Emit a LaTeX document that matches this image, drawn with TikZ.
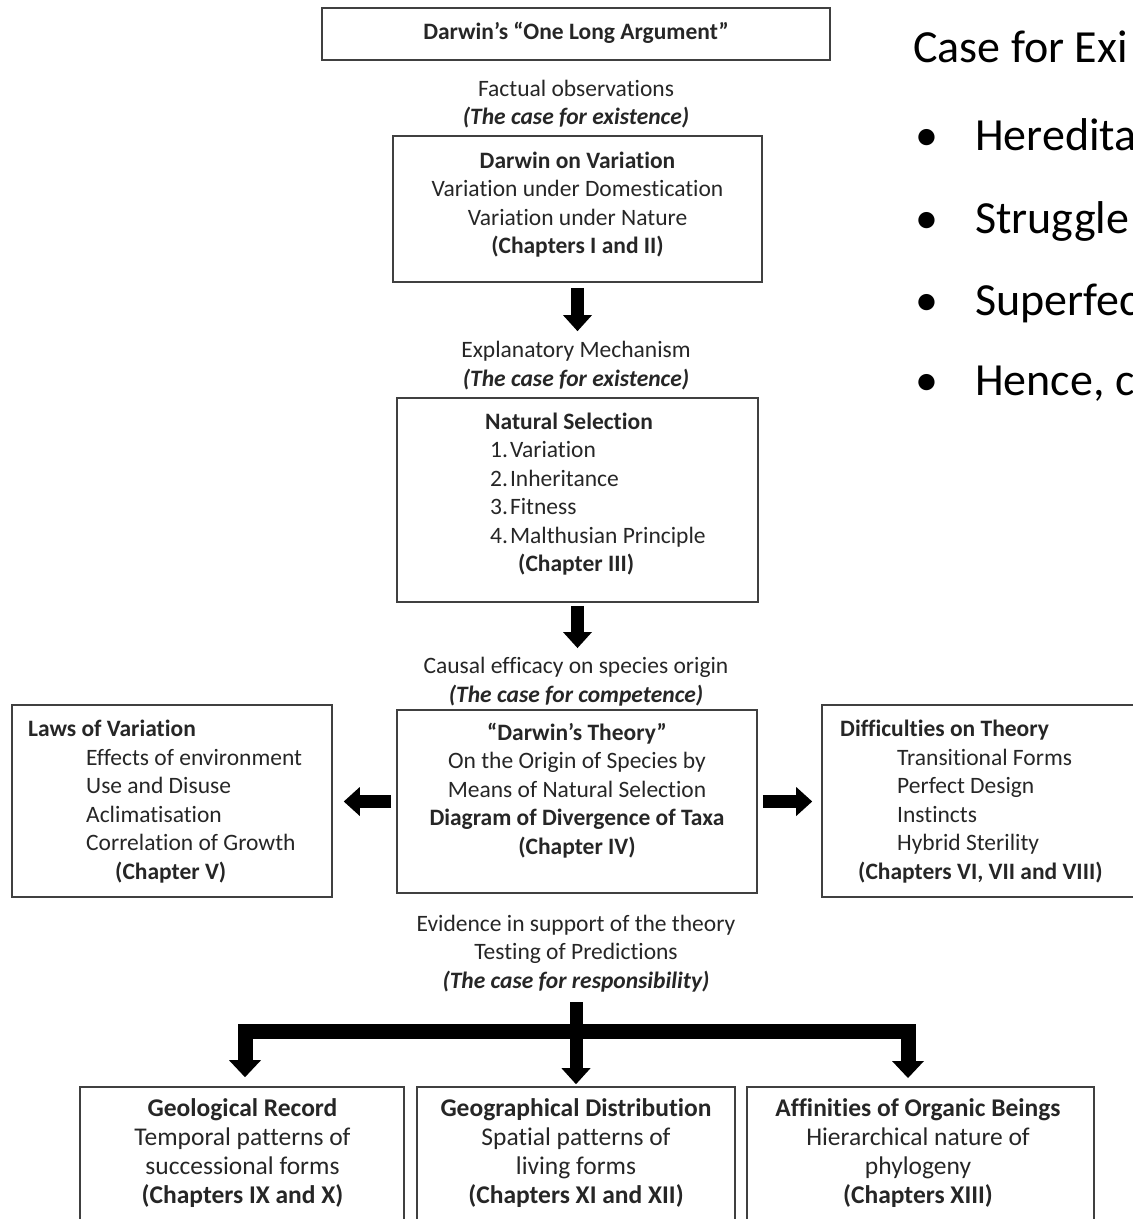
\documentclass[tikz,border=0pt]{standalone}
\usepackage{fontspec}
\setmainfont{Carlito}[Ligatures=NoCommon]
\usetikzlibrary{arrows.meta}
\tikzset{
  box/.style={draw=black!75, line width=1.6pt, inner sep=0pt},
  txt/.style={align=center, inner sep=0pt, text=black!85, font=\fontsize{23.5}{28.5}\selectfont},
  lefttxt/.style={txt, align=left, anchor=west},
  bottomtxt/.style={txt, font=\fontsize{25.5}{29}\selectfont},
  big/.style={inner sep=0pt, anchor=base west, text=black, font=\fontsize{46}{55}\selectfont},
  fat/.style={line width=13pt, -{Triangle[width=29pt, length=16pt, line width=0pt]}},
  bracket/.style={line width=15pt, line join=miter,
    {Triangle[width=32pt, length=17pt, line width=0pt]}-{Triangle[width=32pt, length=17pt, line width=0pt]}},
}

\begin{document}
\begin{tikzpicture}[x=1pt, y=-1pt]
  \useasboundingbox (0,0) rectangle (1133,1219);
  \clip (0,0) rectangle (1133,1219);

  % Boxes
  \node[box, minimum width=508pt, minimum height=52pt] (argbox) at (576,34) {};
  \node[box, minimum width=369pt, minimum height=146pt] (varbox) at (577.5,209) {};
  \node[box, minimum width=361pt, minimum height=204pt] (selbox) at (577.5,500) {};
  \node[box, minimum width=360pt, minimum height=183pt] (theorybox) at (577,801.5) {};
  \node[box, minimum width=320pt, minimum height=192pt] (lawsbox) at (172,801) {};
  \node[box, minimum width=323pt, minimum height=192pt] (diffbox) at (983.5,801) {};
  \node[box, minimum width=324pt, minimum height=153pt] (geobox) at (242,1163.5) {};
  \node[box, minimum width=318pt, minimum height=153pt] (geogbox) at (576,1163.5) {};
  \node[box, minimum width=347pt, minimum height=153pt] (affbox) at (920.5,1163.5) {};

  % Texts
  \node[txt] (argT) at (576,33) {\textbf{Darwin’s “One Long Argument”}};
  \node[txt] (obsT) at (576,104) {Factual observations\\\textbf{\textit{(The case for existence)}}};
  \node[txt] (varT) at (577.5,204.5) {\textbf{Darwin on Variation}\\Variation under Domestication\\Variation under Nature\\\textbf{(Chapters I and II)}};
  \node[txt] (mechT) at (576,365.5) {Explanatory Mechanism\\\textbf{\textit{(The case for existence)}}};
  \node[lefttxt] (selT) at (485,494) {\textbf{Natural Selection}\\\hspace*{5pt}1.\hspace{2pt}Variation\\\hspace*{5pt}2.\hspace{2pt}Inheritance\\\hspace*{5pt}3.\hspace{2pt}Fitness\\\hspace*{5pt}4.\hspace{2pt}Malthusian Principle\\\hspace*{33pt}\textbf{(Chapter III)}};
  \node[txt] (compT) at (576,681.5) {Causal efficacy on species origin\\\textbf{\textit{(The case for competence)}}};
  \node[txt] (theoryT) at (577,790.5) {\textbf{“Darwin’s Theory”}\\On the Origin of Species by\\Means of Natural Selection\\\textbf{Diagram of Divergence of Taxa}\\\textbf{(Chapter IV)}};
  \node[lefttxt] (lawsT) at (28,801.5) {\textbf{Laws of Variation}\\\hspace*{58pt}Effects of environment\\\hspace*{58pt}Use and Disuse\\\hspace*{58pt}Aclimatisation\\\hspace*{58pt}Correlation of Growth\\\hspace*{87pt}\textbf{(Chapter V)}};
  \node[lefttxt] (diffT) at (840,801.5) {\textbf{Difficulties on Theory}\\\hspace*{57pt}Transitional Forms\\\hspace*{57pt}Perfect Design\\\hspace*{57pt}Instincts\\\hspace*{57pt}Hybrid Sterility\\\hspace*{18pt}\textbf{(Chapters VI, VII and VIII)}};
  \node[txt] (evidT) at (576,953.5) {Evidence in support of the theory\\Testing of Predictions\\\textbf{\textit{(The case for responsibility)}}};
  \node[bottomtxt] (geoT) at (242.5,1153.5) {\textbf{Geological Record}\\Temporal patterns of\\successional forms\\\textbf{(Chapters IX and X)}};
  \node[bottomtxt] (geogT) at (576,1153.5) {\textbf{Geographical Distribution}\\Spatial patterns of\\living forms\\\textbf{(Chapters XI and XII)}};
  \node[bottomtxt] (affT) at (918,1153.5) {\textbf{Affinities of Organic Beings}\\Hierarchical nature of\\phylogeny\\\textbf{(Chapters XIII)}};

  % Side list
  \node[big] (caseT) at (913,62) {Case for Exi};
  \foreach \yy/\word [count=\i] in {150/Heredita, 233/Struggle, 315/Superfec, 395/{Hence, c}} {
    \node[big, anchor=base] (dot\i) at (927,\yy) {\textbullet};
    \node[big] (item\i) at (975,\yy) {\word};
  }

  % Arrows
  \draw[fat, shorten <=5pt, shorten >=10pt] (varbox.south) -- (varbox.south |- mechT.north);
  \draw[fat, shorten <=3pt, shorten >=9pt] (selbox.south) -- (selbox.south |- compT.north);
  \draw[fat, shorten <=5pt, shorten >=11pt] (theorybox.west) -- (theorybox.west -| lawsbox.east);
  \draw[fat, shorten <=5pt, shorten >=9pt] (theorybox.east) -- (theorybox.east -| diffbox.west);
  \draw[fat, shorten <=10pt, shorten >=2pt] (evidT.south) -- (geogbox.north);

  % Bracket
  \coordinate (split) at (576,1031);
  \coordinate (ldrop) at ([xshift=3pt, yshift=9pt]geobox.north);
  \coordinate (rdrop) at (908,1078);
  \draw[bracket] (ldrop) |- (split) -| (rdrop);
\end{tikzpicture}
\end{document}
